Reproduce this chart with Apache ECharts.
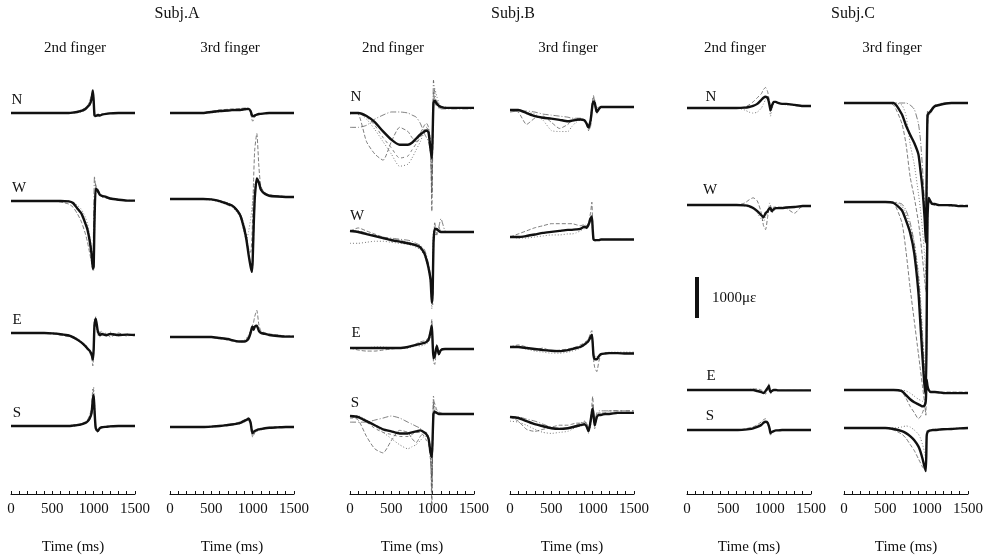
<!DOCTYPE html>
<html>
<head>
<meta charset="utf-8">
<script src="https://cdn.jsdelivr.net/npm/echarts@6/dist/echarts.min.js"></script>
<style>
  html, body { margin: 0; padding: 0; background: #fff; }
  #chart { width: 995px; height: 558px; }
</style>
</head>
<body>
<div id="chart"></div>
<script>
// time samples (ms), shared by every trace
const T = [0, 100, 200, 300, 400, 500, 600, 700, 750, 800, 850, 900, 925, 950, 975, 990, 1000, 1010, 1025, 1050, 1075, 1100, 1150, 1200, 1300, 1400, 1500];
const xTicks = [0, 500, 1000, 1500];
const channels = ["N", "W", "E", "S"];

// strain in µε relative to each channel's resting level; "_tr" = single trials
// Subj.A 2nd finger
const A2N = [0,0,0,0,0,0,0,0,10,25,50,100,150,200,350,550,300,-50,-75,-50,-60,-40,-20,-10,0,0,0];
const A2N_tr = [
  [0,0,0,0,0,0,0,10,20,40,75,125,175,275,450,500,150,-100,-50,-75,-50,-25,-10,0,0,0,0],
  [0,0,0,0,0,0,0,0,0,10,25,75,125,175,300,450,400,0,-100,-25,-40,-30,-20,-10,0,0,0]
];
const A2W = [0,0,0,0,0,0,0,-10,-50,-175,-300,-550,-700,-950,-1300,-1650,-1600,-500,300,250,150,125,100,60,30,10,10];
const A2W_tr = [
  [0,0,0,0,0,0,-25,-75,-150,-300,-500,-800,-1000,-1250,-1500,-1700,-1500,-200,400,200,150,100,75,50,25,10,0],
  [0,0,0,0,0,0,0,0,-25,-100,-200,-400,-550,-800,-1150,-1500,-1700,-900,200,300,175,125,100,75,40,20,10],
  [0,0,0,0,0,0,0,-10,-40,-150,-275,-500,-650,-900,-1250,-1400,-400,600,350,200,150,100,75,50,25,10,10]
];
const A2E = [0,0,0,0,0,-10,-30,-60,-100,-160,-230,-320,-380,-430,-520,-650,-400,200,350,50,-50,-25,-50,-25,-50,-40,-50];
const A2E_tr = [
  [0,0,0,0,-10,-25,-50,-90,-125,-175,-250,-350,-400,-475,-600,-800,-500,100,400,0,50,-75,0,-100,0,-75,-25],
  [0,0,0,0,0,0,-20,-50,-80,-130,-200,-290,-350,-400,-475,-550,-250,350,200,-50,-100,50,-100,25,-75,-25,-75]
];
const A2S = [0,0,0,0,0,0,0,0,10,20,40,75,110,175,325,650,750,400,-50,-125,-50,-30,-20,-10,0,0,0];
const A2S_tr = [
  [0,0,0,0,0,0,0,10,20,40,60,100,150,250,450,900,800,200,-100,-150,-60,-40,-20,0,0,0,0],
  [0,0,0,0,0,0,0,0,0,10,25,60,90,150,275,500,950,600,0,-100,-75,-25,-10,0,0,0,0]
];

// Subj.A 3rd finger
const A3N = [0,0,0,0,0,25,50,60,70,75,75,90,95,100,50,-50,-75,-75,-60,-40,-25,-20,-10,0,0,0,0];
const A3N_tr = [
  [0,0,0,0,10,40,75,90,100,100,110,120,125,100,0,-150,-200,-175,-100,-50,-30,-20,-10,0,0,0,0],
  [0,0,0,0,0,10,30,50,60,60,60,75,80,75,25,-75,-100,-100,-75,-50,-25,-10,0,0,0,0,0]
];
const A3W = [0,0,0,0,0,-10,-50,-125,-160,-250,-400,-750,-1000,-1350,-1650,-1775,-1500,-800,0,500,400,225,120,80,60,50,50];
const A3W_tr = [
  [0,0,0,0,0,-10,-40,-100,-150,-225,-375,-700,-900,-1200,-1300,-1000,-400,400,1200,1600,800,300,150,100,75,60,50],
  [0,0,0,0,-10,-25,-75,-150,-200,-300,-450,-850,-1000,-800,-500,-250,-50,150,350,450,350,200,125,100,75,50,50],
  [0,0,0,0,0,0,-40,-100,-150,-225,-350,-650,-900,-1250,-1600,-1800,-1700,-1100,-200,450,450,250,150,100,75,60,50]
];
const A3E = [0,0,0,0,0,0,-25,-50,-75,-100,-110,-110,-90,-40,100,225,250,175,250,275,150,100,75,50,25,10,10];
const A3E_tr = [
  [0,0,0,0,0,-10,-40,-75,-100,-125,-125,-100,-50,25,150,250,300,350,500,650,300,150,100,75,50,25,25],
  [0,0,0,0,0,0,-25,-50,-75,-100,-110,-75,-25,50,150,200,200,150,200,250,200,125,75,50,50,25,25]
];
const A3S = [0,0,0,0,0,10,25,50,60,75,100,150,175,200,100,-100,-150,-125,-100,-75,-60,-50,-30,-20,-10,0,0];
const A3S_tr = [
  [0,0,0,0,10,20,40,60,75,100,125,175,200,225,150,-150,-250,-200,-150,-75,-50,-40,-25,-10,0,0,0],
  [0,0,0,0,0,0,20,40,50,60,80,125,150,175,125,0,-100,-150,-100,-100,-75,-50,-25,-10,-10,0,0]
];

// Subj.B 2nd finger
const B2N = [0,0,-75,-225,-450,-650,-775,-775,-725,-625,-525,-450,-425,-475,-900,-1100,-500,250,300,225,175,150,125,125,125,125,125];
const B2N_tr = [
  [0,-25,-700,-1000,-1150,-700,-350,-450,-600,-700,-500,-300,-250,-350,-800,-2400,-1000,500,350,300,200,150,125,125,125,125,125],
  [-25,0,-150,-400,-700,-1000,-1300,-1250,-1100,-900,-700,-450,-350,-400,-700,-1500,-300,300,600,400,250,150,150,125,125,125,125],
  [-350,-350,-300,-150,-50,25,25,0,-50,-100,-250,-500,-600,-700,-1000,-2000,-600,800,500,200,150,100,100,100,100,100,100],
  [0,0,-100,-300,-600,-850,-1100,-1050,-900,-750,-600,-400,-350,-450,-1000,-1800,-800,200,250,150,125,125,125,125,125,125,125]
];
const B2W = [0,-25,-75,-125,-175,-225,-260,-300,-320,-350,-400,-550,-700,-900,-1200,-1750,-1500,-300,50,50,0,-25,-25,-25,-25,-25,-25];
const B2W_tr = [
  [0,75,0,-75,-150,-200,-225,-275,-300,-325,-375,-500,-650,-850,-1150,-1500,-1800,-500,100,0,100,-25,-25,-25,-25,-25,-25],
  [-300,-300,-275,-250,-250,-275,-300,-325,-350,-400,-450,-600,-750,-950,-1300,-1900,-1000,0,-100,-50,0,-25,-25,-25,-25,-25,-25],
  [0,0,-50,-100,-150,-175,-200,-225,-250,-300,-350,-450,-600,-800,-1100,-1600,-1200,-200,200,-100,100,300,0,-25,-25,-25,-25]
];
const B2E = [0,0,0,0,0,0,0,25,50,75,100,125,150,200,400,550,100,-250,-200,50,-150,-50,-25,-25,-25,-25,-25];
const B2E_tr = [
  [0,-50,-75,-75,-50,-25,0,25,50,100,150,175,200,250,450,700,200,-350,-400,100,-200,-25,-25,-25,-25,-25,-25],
  [0,0,0,25,25,0,0,0,25,50,50,75,100,150,300,400,0,-150,-100,-50,-100,-25,-25,-25,-25,-25,-25]
];
const B2S = [0,-25,-125,-225,-325,-375,-425,-425,-400,-375,-350,-400,-450,-550,-900,-1000,-500,50,100,75,50,50,50,50,50,50,50];
const B2S_tr = [
  [0,-100,-500,-800,-900,-600,-350,-400,-550,-650,-500,-400,-400,-500,-1000,-2200,-800,400,300,150,100,75,50,50,50,50,50],
  [0,0,-100,-250,-400,-550,-700,-800,-750,-700,-600,-500,-500,-600,-900,-1500,-300,500,200,100,75,50,50,50,50,50,50],
  [-150,-150,-150,-100,-50,0,-50,-150,-200,-250,-300,-400,-450,-550,-800,-1800,-600,300,100,75,50,50,50,50,50,50,50],
  [-50,-50,-150,-300,-400,-450,-500,-500,-450,-400,-400,-500,-600,-700,-1100,-1600,-500,100,150,100,75,50,50,50,50,50,50]
];

// Subj.B 3rd finger
const B3N = [0,0,-75,-150,-190,-210,-240,-275,-260,-240,-230,-250,-325,-425,-250,0,150,200,175,-50,25,75,75,75,75,75,75];
const B3N_tr = [
  [0,-50,-350,-200,-150,-300,-450,-350,-250,-200,-200,-250,-350,-500,-300,50,250,300,200,0,50,75,75,75,75,75,75],
  [0,0,-50,-100,-250,-500,-525,-525,-400,-300,-250,-275,-350,-450,-200,100,200,300,250,50,75,75,75,75,75,75,75],
  [-50,-25,-25,-50,-100,-125,-150,-175,-200,-200,-225,-275,-350,-500,-400,-100,250,350,150,-100,0,75,75,75,75,75,75]
];
const B3W = [0,0,25,60,100,125,150,175,175,185,200,250,225,300,450,500,200,-50,-75,-75,-75,-60,-60,-60,-60,-60,-60];
const B3W_tr = [
  [0,75,150,225,275,325,325,325,325,300,275,300,275,350,600,850,300,-100,-100,-75,-60,-60,-60,-60,-60,-60,-60],
  [0,-25,-25,0,25,50,50,75,75,100,150,200,200,275,400,500,100,-50,-75,-75,-60,-60,-60,-60,-60,-60,-60]
];
const B3E = [0,0,-25,-50,-75,-90,-100,-75,-50,-25,0,60,100,150,250,300,100,-200,-300,-300,-225,-175,-160,-150,-150,-160,-160];
const B3E_tr = [
  [0,50,0,-75,-25,-100,-75,-50,-25,0,50,100,150,200,350,400,100,-300,-500,-600,-350,-200,-150,-150,-150,-150,-150],
  [0,0,-50,-100,-125,-150,-150,-125,-100,-75,-25,25,75,125,200,250,50,-150,-200,-250,-200,-175,-150,-125,-125,-125,-125]
];
const B3S = [0,-25,-100,-175,-225,-275,-290,-275,-250,-225,-200,-175,-225,-350,-100,100,200,50,-200,0,50,50,75,75,100,100,100];
const B3S_tr = [
  [0,-100,-300,-350,-300,-250,-200,-200,-175,-150,-150,-125,-150,-250,-50,300,500,200,-250,50,100,100,100,150,150,150,150],
  [-100,-125,-200,-300,-375,-400,-375,-350,-300,-250,-225,-200,-250,-400,-200,0,100,-50,-300,-50,50,75,75,75,100,100,100],
  [0,0,-50,-100,-175,-250,-275,-275,-250,-200,-150,-100,-150,-300,-50,150,300,150,-100,100,150,150,150,150,150,150,150]
];

// Subj.C 2nd finger
const C2N = [0,0,0,0,0,0,0,10,25,50,100,200,250,275,250,150,50,-50,50,150,150,125,100,100,75,50,50];
const C2N_tr = [
  [0,0,0,0,0,0,0,25,75,150,250,350,450,500,400,250,100,-100,0,125,150,125,100,100,75,50,50],
  [0,0,0,0,0,0,0,-50,-100,-125,-100,0,100,200,250,200,0,-200,-50,100,125,125,100,75,75,50,50]
];
const C2W = [0,0,0,0,0,0,0,-10,-25,-75,-150,-250,-300,-200,-150,-100,-75,-75,-150,-100,-75,-75,-75,-60,-50,-25,-25];
const C2W_tr = [
  [0,0,0,0,0,0,0,50,125,175,100,-200,-500,-600,-300,-100,-50,-25,-100,-50,-50,-50,-50,-75,-200,-25,-25],
  [0,0,0,0,0,0,0,-25,-50,-100,-200,-350,-400,-300,-200,-50,50,0,-200,-150,-100,-75,-75,-50,-50,-25,-25]
];
const C2E = [0,0,0,0,0,0,0,0,0,0,-25,-50,-75,-25,50,100,0,-50,-25,0,0,-10,-10,-10,-10,-10,-10];
const C2E_tr = [
  [0,0,0,0,0,0,0,0,10,25,25,0,-50,-100,0,150,100,-100,-50,0,0,-10,-10,-10,-10,-10,-10]
];
const C2S = [0,0,0,0,0,0,0,10,20,40,75,125,175,200,175,100,25,-75,-50,-25,-10,-10,0,0,0,0,0];
const C2S_tr = [
  [0,0,0,0,0,0,0,25,50,75,125,200,250,275,200,75,-25,-125,-75,-25,-10,0,0,0,0,0,0]
];

// Subj.C 3rd finger
const C3N = [0,0,0,0,0,0,0,-275,-550,-775,-975,-1250,-1650,-2100,-2800,-3400,-1800,-300,-250,-200,-125,-75,-50,-25,0,0,0];
const C3N_tr = [
  [0,0,0,0,0,0,-50,-500,-1000,-1800,-2300,-2900,-3300,-3800,-4300,-4600,-3000,-600,-250,-150,-100,-50,-25,0,0,0,0],
  [0,0,0,0,0,0,0,-50,-300,-1000,-1500,-2200,-2600,-3100,-3700,-4200,-2500,-400,-300,-200,-150,-100,-50,-25,0,0,0],
  [0,0,0,0,0,0,0,0,0,-50,-150,-500,-900,-1600,-2500,-3200,-1500,-200,-300,-250,-150,-100,-50,-25,0,0,0]
];
const C3W = [0,0,0,0,0,0,-25,-200,-450,-750,-1250,-2200,-3000,-3800,-4500,-4700,-3000,-400,100,0,-50,-50,-75,-75,-75,-100,-100];
const C3W_tr = [
  [0,0,0,0,0,0,-25,-500,-1200,-2100,-2900,-3700,-4100,-4500,-4900,-5200,-3500,-500,0,-50,-50,-50,-75,-75,-75,-75,-75],
  [0,0,0,0,0,0,0,-100,-300,-600,-1000,-1700,-2300,-3200,-4000,-4600,-3800,-800,0,-50,-75,-75,-75,-75,-100,-100,-100],
  [0,0,0,0,0,0,0,-50,-200,-500,-1000,-1800,-2500,-3300,-4200,-4900,-2000,-300,50,-25,-50,-75,-75,-75,-100,-100,-100]
];
const C3E = [0,0,0,0,0,0,0,-25,-125,-225,-300,-350,-375,-400,-375,-250,250,100,0,-50,-50,-50,-60,-75,-75,-75,-75];
const C3E_tr = [
  [0,0,0,0,0,0,0,-50,-200,-400,-550,-700,-650,-550,-400,-200,200,50,-25,-50,-50,-50,-50,-50,-50,-50,-50],
  [0,0,0,0,0,0,0,0,-25,-75,-150,-225,-250,-275,-250,-150,100,0,-25,-50,-50,-50,-60,-60,-60,-60,-60]
];
const C3S = [0,0,0,0,0,0,-25,-75,-125,-200,-300,-450,-575,-750,-950,-1050,-200,-100,-75,-60,-50,-50,-40,-30,-25,-10,0];
const C3S_tr = [
  [0,0,0,0,0,0,-50,-150,-250,-400,-550,-750,-850,-950,-1000,-900,-150,-75,-50,-50,-50,-50,-40,-30,-25,-10,0],
  [0,0,0,0,0,0,0,25,50,25,-50,-150,-250,-400,-600,-800,-100,-50,-50,-50,-40,-30,-25,-25,-10,0,0]
];

// scale bar value (µε)
const scaleBar = 1000;

const traces = {
  A2N: [A2N, A2N_tr], A2W: [A2W, A2W_tr], A2E: [A2E, A2E_tr], A2S: [A2S, A2S_tr],
  A3N: [A3N, A3N_tr], A3W: [A3W, A3W_tr], A3E: [A3E, A3E_tr], A3S: [A3S, A3S_tr],
  B2N: [B2N, B2N_tr], B2W: [B2W, B2W_tr], B2E: [B2E, B2E_tr], B2S: [B2S, B2S_tr],
  B3N: [B3N, B3N_tr], B3W: [B3W, B3W_tr], B3E: [B3E, B3E_tr], B3S: [B3S, B3S_tr],
  C2N: [C2N, C2N_tr], C2W: [C2W, C2W_tr], C2E: [C2E, C2E_tr], C2S: [C2S, C2S_tr],
  C3N: [C3N, C3N_tr], C3W: [C3W, C3W_tr], C3E: [C3E, C3E_tr], C3S: [C3S, C3S_tr]
};

// layout: panel left edge and resting level (px) of each channel
const GRID_TOP = 60, GRID_H = 434, PX_PER_1000 = 41;
const YMAX = GRID_H * 1000 / PX_PER_1000;
const panels = [
  { key: "A2", left: 11,  base: { N: 113, W: 201, E: 333, S: 426 } },
  { key: "A3", left: 170, base: { N: 113, W: 199, E: 337, S: 427 } },
  { key: "B2", left: 350, base: { N: 113, W: 231, E: 348, S: 416 } },
  { key: "B3", left: 510, base: { N: 110, W: 237, E: 347, S: 417 } },
  { key: "C2", left: 687, base: { N: 108, W: 205, E: 390, S: 430 } },
  { key: "C3", left: 844, base: { N: 103, W: 202, E: 390, S: 428 } }
];
const offsetOf = px => (GRID_TOP + GRID_H - px) * 1000 / PX_PER_1000;

const FONT = "Liberation Serif";
const grids = [], xAxes = [], yAxes = [], series = [];
const trialDash = [[4, 2], [1, 2], [6, 2, 1, 2], [3, 3]];

panels.forEach((p, i) => {
  grids.push({ left: p.left, top: GRID_TOP, width: 124, height: GRID_H, outerBoundsMode: "none", containLabel: false });
  xAxes.push({
    gridIndex: i, type: "value", min: 0, max: 1500, interval: 100,
    axisLine: { lineStyle: { color: "#111", width: 1 } },
    axisTick: { inside: true, length: 3, lineStyle: { color: "#111" } },
    splitLine: { show: false },
    axisLabel: {
      formatter: v => (xTicks.indexOf(v) >= 0 ? String(v) : ""),
      color: "#111", fontFamily: FONT, fontSize: 15, margin: 8
    },
    name: "Time (ms)", nameLocation: "middle", nameGap: 46,
    nameTextStyle: { color: "#111", fontFamily: FONT, fontSize: 15 }
  });
  yAxes.push({ gridIndex: i, type: "value", min: 0, max: YMAX, show: false });

  channels.forEach(ch => {
    const off = offsetOf(p.base[ch]);
    const [mean, trials] = traces[p.key + ch];
    trials.forEach((tr, k) => {
      series.push({
        type: "line", xAxisIndex: i, yAxisIndex: i, silent: true,
        symbol: "none", smooth: 0.2, clip: false, z: 2,
        lineStyle: { color: "#555", width: 0.9, type: trialDash[k % trialDash.length], opacity: 0.85 },
        data: T.map((t, j) => [t, off + tr[j]])
      });
    });
    series.push({
      type: "line", xAxisIndex: i, yAxisIndex: i, silent: true,
      symbol: "none", smooth: 0.2, clip: false, z: 3,
      lineStyle: { color: "#111", width: 2.4 },
      data: T.map((t, j) => [t, off + mean[j]])
    });
  });
});

// 1000 µε scale bar in Subj.C 2nd finger panel
const barBase = offsetOf(318);
series.push({
  type: "line", xAxisIndex: 4, yAxisIndex: 4, silent: true, symbol: "none", z: 4,
  lineStyle: { color: "#111", width: 4 },
  data: [[121, barBase], [121, barBase + scaleBar]]
});

const txt = (text, x, y, size, align) => ({
  type: "text", x: x, y: y, silent: true,
  style: { text: text, fill: "#111", font: size + 'px "' + FONT + '"', textAlign: align || "center", textVerticalAlign: "middle" }
});

const graphics = [
  txt("Subj.A", 177, 14, 16), txt("Subj.B", 513, 14, 16), txt("Subj.C", 853, 14, 16),
  txt("2nd finger", 75, 48, 15), txt("3rd finger", 230, 48, 15),
  txt("2nd finger", 393, 48, 15), txt("3rd finger", 568, 48, 15),
  txt("2nd finger", 735, 48, 15), txt("3rd finger", 892, 48, 15),
  txt("N", 17, 100, 15), txt("W", 19, 188, 15), txt("E", 17, 320, 15), txt("S", 17, 413, 15),
  txt("N", 356, 97, 15), txt("W", 357, 216, 15), txt("E", 356, 333, 15), txt("S", 355, 403, 15),
  txt("N", 711, 97, 15), txt("W", 710, 190, 15), txt("E", 711, 376, 15), txt("S", 710, 416, 15),
  txt("1000με", 712, 298, 15, "left")
];

const chart = echarts.init(document.getElementById("chart"));
chart.setOption({
  animation: false,
  backgroundColor: "#fff",
  grid: grids,
  xAxis: xAxes,
  yAxis: yAxes,
  series: series,
  graphic: graphics
});
window.addEventListener("resize", () => chart.resize());
</script>
</body>
</html>
